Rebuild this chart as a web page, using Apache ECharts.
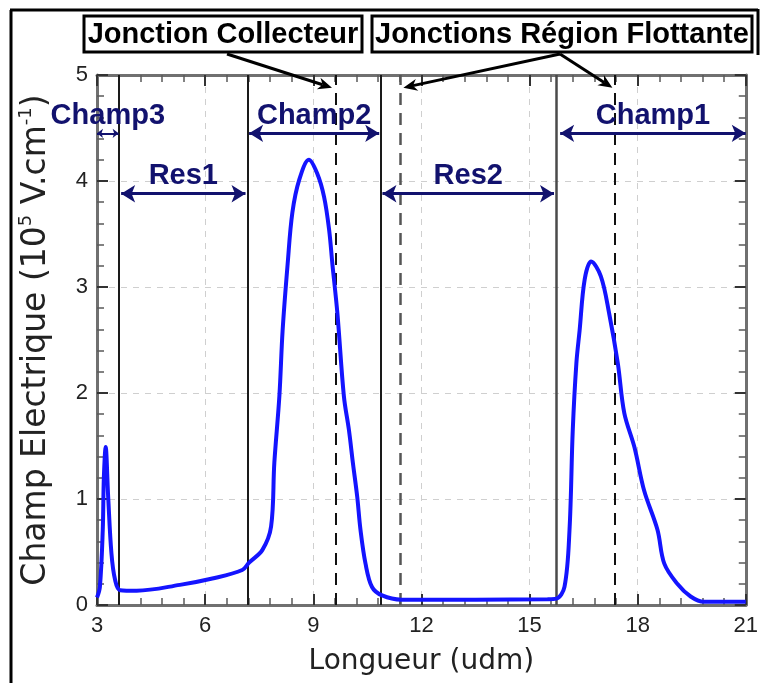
<!DOCTYPE html>
<html>
<head>
<meta charset="utf-8">
<script src="https://cdn.jsdelivr.net/npm/echarts@6/dist/echarts.min.js"></script>
<style>
html,body{margin:0;padding:0;background:#fff;}
#chart{width:761px;height:683px;}
</style>
</head>
<body>
<div id="chart"></div>
<script>
// ---- data ----
const curveX = [3.0, 3.08, 3.16, 3.19, 3.24, 3.31, 3.4, 3.5, 3.64, 4.1, 5.3, 6.2, 7.03, 7.22, 7.59, 7.83, 7.92, 8.06, 8.15, 8.29, 8.42, 8.61, 8.88, 9.11, 9.30, 9.44, 9.53, 9.67, 9.85, 9.99, 10.10, 10.22, 10.31, 10.45, 10.63, 10.91, 11.45, 13.5, 15.5, 15.74, 15.97, 16.11, 16.20, 16.30, 16.39, 16.53, 16.71, 16.98, 17.21, 17.45, 17.63, 17.91, 18.18, 18.55, 18.74, 19.10, 19.47, 19.84, 21.0];
const curveY = [0.07, 0.17, 0.71, 1.2, 1.49, 1.02, 0.49, 0.24, 0.14, 0.135, 0.19, 0.25, 0.33, 0.40, 0.52, 0.74, 1.34, 1.97, 2.59, 3.22, 3.70, 4.01, 4.20, 4.07, 3.85, 3.54, 3.22, 2.75, 1.97, 1.65, 1.34, 1.02, 0.71, 0.39, 0.17, 0.09, 0.05, 0.05, 0.055, 0.06, 0.17, 0.71, 1.65, 2.28, 2.59, 3.07, 3.24, 3.10, 2.75, 2.28, 1.81, 1.49, 1.08, 0.71, 0.39, 0.20, 0.08, 0.03, 0.03];

const xTicks = [3, 6, 9, 12, 15, 18, 21];
const yTicks = [0, 1, 2, 3, 4, 5];

const solidLinesX = [3.61, 7.17, 10.88, 15.74];
const dashedLinesX = [9.62, 11.42, 17.37];

const spanNames = ['Champ3', 'Res1', 'Champ2', 'Res2', 'Champ1'];
const spanStart = [3.0, 3.67, 7.22, 10.92, 15.85];
const spanEnd   = [3.6, 7.12, 10.83, 15.68, 21.0];
const spanY     = [4.45, 3.88, 4.45, 3.88, 4.45];

const boxLabels = ['Jonction Collecteur', 'Jonctions Région Flottante'];
const pointerTipX = [9.52, 11.5, 17.30];
const pointerTipY = [4.88, 4.88, 4.88];
const pointerFromBox = [0, 1, 1];

const xTitle = 'Longueur (udm)';
const yTitleParts = ['Champ Electrique (10', '5', ' V.cm', '-1', ')'];

// ---- chart ----
const chart = echarts.init(document.getElementById('chart'), null, {renderer: 'canvas'});
const navy = '#12126e';
const frameColor = '#707070';
const tickFont = 'Liberation Sans, Arial, sans-serif';

function tickCfg() {
  return {show: true, inside: true, length: 11, lineStyle: {color: '#333', width: 2}};
}
function minorCfg() {
  return {show: true, splitNumber: 5, length: 7, lineStyle: {color: '#5a5a5a', width: 1.5}};
}

const mainX = {
  type: 'value', min: xTicks[0], max: xTicks[xTicks.length - 1], interval: 3,
  name: xTitle, nameLocation: 'middle', nameGap: 43,
  nameTextStyle: {fontFamily: 'DejaVu Sans', fontSize: 28, color: '#222'},
  axisLine: {show: true, onZero: false, lineStyle: {color: frameColor, width: 3}},
  axisTick: tickCfg(),
  minorTick: minorCfg(),
  axisLabel: {fontFamily: tickFont, fontSize: 22, color: '#222', margin: 10},
  splitLine: {show: true, lineStyle: {color: '#cfcfcf', type: [6, 6], width: 1}}
};
const topX = {
  type: 'value', position: 'top', min: xTicks[0], max: xTicks[xTicks.length - 1], interval: 3,
  axisLine: {show: true, onZero: false, lineStyle: {color: frameColor, width: 3}},
  axisTick: tickCfg(),
  minorTick: minorCfg(),
  axisLabel: {show: false}, splitLine: {show: false}
};
const mainY = {
  type: 'value', min: yTicks[0], max: yTicks[yTicks.length - 1], interval: 1,
  name: '{a|' + yTitleParts[0] + '}{s|' + yTitleParts[1] + '}{a|' + yTitleParts[2] + '}{s|' + yTitleParts[3] + '}{a|' + yTitleParts[4] + '}',
  nameLocation: 'middle', nameGap: 44, nameRotate: 90,
  nameTextStyle: {
    rich: {
      a: {fontFamily: 'DejaVu Sans', fontSize: 33, color: '#222', lineHeight: 36, verticalAlign: 'bottom'},
      s: {fontFamily: 'DejaVu Sans', fontSize: 18, color: '#222', lineHeight: 36, verticalAlign: 'top'}
    }
  },
  axisLine: {show: true, onZero: false, lineStyle: {color: frameColor, width: 3}},
  axisTick: tickCfg(),
  minorTick: minorCfg(),
  axisLabel: {fontFamily: tickFont, fontSize: 22, color: '#222', margin: 9},
  splitLine: {show: true, lineStyle: {color: '#cfcfcf', type: [6, 6], width: 1}}
};
const rightY = {
  type: 'value', position: 'right', min: yTicks[0], max: yTicks[yTicks.length - 1], interval: 1,
  axisLine: {show: true, onZero: false, lineStyle: {color: frameColor, width: 3}},
  axisTick: tickCfg(),
  minorTick: minorCfg(),
  axisLabel: {show: false}, splitLine: {show: false}
};

const vLineData = [];
solidLinesX.forEach(function (x, i) {
  vLineData.push({xAxis: x, lineStyle: {color: i === 3 ? '#4a4a4a' : '#1a1a1a', width: i === 3 ? 2.5 : 2, type: 'solid'}});
});
dashedLinesX.forEach(function (x, i) {
  vLineData.push({xAxis: x, lineStyle: {color: i === 1 ? '#555' : '#111', width: i === 1 ? 2.5 : 2, type: [12, 8]}});
});

const spanData = spanNames.map(function (n, i) {
  const small = (spanEnd[i] - spanStart[i]) < 1;
  return [
    {coord: [spanStart[i], spanY[i]], name: n, symbolSize: small ? [7, 6] : [13, 14], lineStyle: {width: small ? 2 : 3}},
    {coord: [spanEnd[i], spanY[i]], symbolSize: small ? [7, 6] : [13, 14]}
  ];
});

const option = {
  animation: false,
  backgroundColor: '#fff',
  grid: {left: 97, right: 11, top: 75, bottom: 78, containLabel: false},
  xAxis: [mainX, topX],
  yAxis: [mainY, rightY],
  series: [
    {
      type: 'line', name: 'curve', xAxisIndex: 0, yAxisIndex: 0,
      data: curveX.map(function (x, i) { return [x, curveY[i]]; }),
      showSymbol: false, smooth: 0.35,
      lineStyle: {color: '#1414ff', width: 4},
      z: 5,
      markLine: {silent: true, symbol: 'none', label: {show: false}, data: vLineData, z: 4}
    },
    {
      type: 'line', name: 'spans', xAxisIndex: 0, yAxisIndex: 0, data: [],
      markLine: {
        silent: true,
        symbol: ['arrow', 'arrow'], symbolSize: [13, 14],
        lineStyle: {color: navy, width: 3, type: 'solid'},
        label: {
          show: true, position: 'insideMiddleTop', distance: 3,
          formatter: function (p) { return p.name; },
          fontFamily: 'Liberation Sans, Arial, sans-serif', fontWeight: 'bold', fontSize: 29, color: navy
        },
        data: spanData
      }
    }
  ]
};
chart.setOption(option);

// ---- annotation boxes and pointers ----
const boxes = [
  {x: 84, y: 16, w: 278, h: 36},
  {x: 372, y: 16, w: 380, h: 36}
];
const boxAnchors = [[227, 54], [560, 54]];
const g = [];
g.push({type: 'line', shape: {x1: 11, y1: 10, x2: 11, y2: 683}, style: {stroke: '#000', lineWidth: 3}});
g.push({type: 'line', shape: {x1: 10, y1: 10, x2: 758, y2: 10}, style: {stroke: '#000', lineWidth: 3}});
g.push({type: 'line', shape: {x1: 758, y1: 9, x2: 758, y2: 55}, style: {stroke: '#000', lineWidth: 3}});
boxes.forEach(function (b, i) {
  g.push({type: 'rect', shape: {x: b.x, y: b.y, width: b.w, height: b.h}, style: {fill: '#fff', stroke: '#000', lineWidth: 3}, z: 10});
  g.push({type: 'text', x: b.x + b.w / 2, y: b.y + b.h / 2 + 1, style: {text: boxLabels[i], fill: '#000', font: 'bold 29px "Liberation Sans", Arial, sans-serif', align: 'center', verticalAlign: 'middle'}, z: 11});
});
pointerTipX.forEach(function (tx, i) {
  const tip = chart.convertToPixel({xAxisIndex: 0, yAxisIndex: 0}, [tx, pointerTipY[i]]);
  const s = boxAnchors[pointerFromBox[i]];
  const dx = tip[0] - s[0], dy = tip[1] - s[1];
  const len = Math.sqrt(dx * dx + dy * dy);
  const ux = dx / len, uy = dy / len;
  const nx = -uy, ny = ux;
  const L = 14, W = 6;
  const bx = tip[0] - ux * L, by = tip[1] - uy * L;
  const mx = tip[0] - ux * L * 0.7, my = tip[1] - uy * L * 0.7;
  g.push({type: 'line', shape: {x1: s[0], y1: s[1], x2: mx, y2: my}, style: {stroke: '#000', lineWidth: 3}, z: 10});
  g.push({type: 'polygon', shape: {points: [[tip[0], tip[1]], [bx + nx * W, by + ny * W], [mx, my], [bx - nx * W, by - ny * W]]}, style: {fill: '#000'}, z: 10});
});
chart.setOption({graphic: g});
</script>
</body>
</html>
